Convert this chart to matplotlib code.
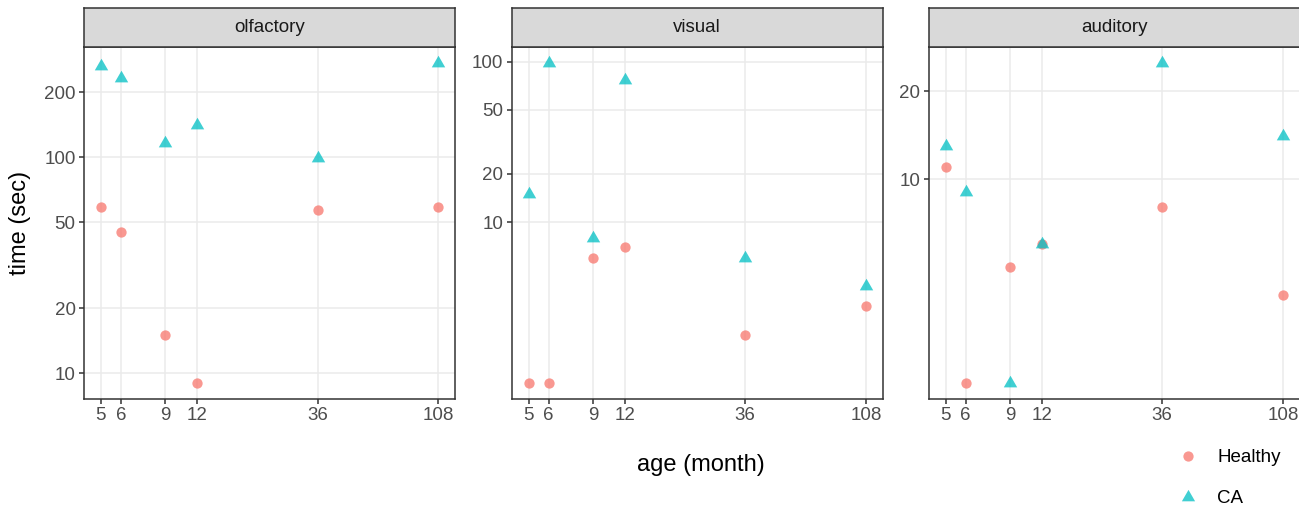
import matplotlib.pyplot as plt
from matplotlib.lines import Line2D
from matplotlib.patches import Rectangle
from matplotlib.ticker import NullLocator

ages = [5, 6, 9, 12, 36, 108]
senses = ["olfactory", "visual", "auditory"]

healthy_olfactory = [59, 45, 15, 9, 57, 59]
ca_olfactory = [263, 233, 116, 141, 99, 273]
healthy_visual = [1, 1, 6, 7, 2, 3]
ca_visual = [15, 98, 8, 77, 6, 4]
healthy_auditory = [11, 2, 5, 6, 8, 4]
ca_auditory = [13, 9, 2, 6, 25, 14]

yticks_olfactory = [10, 20, 50, 100, 200]
yticks_visual = [10, 20, 50, 100]
yticks_auditory = [10, 20]

healthy = {"olfactory": healthy_olfactory, "visual": healthy_visual, "auditory": healthy_auditory}
ca = {"olfactory": ca_olfactory, "visual": ca_visual, "auditory": ca_auditory}
yticks = {"olfactory": yticks_olfactory, "visual": yticks_visual, "auditory": yticks_auditory}

plt.rcParams['font.family'] = ['Liberation Sans', 'DejaVu Sans']

W, H = 1312, 508
fig = plt.figure(figsize=(W / 100, H / 100), dpi=100)

red = "#F8766D"
teal = "#00BFC4"
alpha = 0.75
tri = [(-1, -0.577), (1, -0.577), (0, 1.155)]

lefts = [84, 511.7, 928.7]
pw = 371
top, bottom = 47, 399
strip_top = 8

for i, s in enumerate(senses):
    x0 = lefts[i]
    ax = fig.add_axes([x0 / W, 1 - bottom / H, pw / W, (bottom - top) / H])
    ax.set_xscale('log')
    ax.set_yscale('log')
    ax.scatter(ages, healthy[s], s=55, color=red, alpha=alpha, linewidths=0, zorder=3)
    ax.scatter(ages, ca[s], s=125, marker=tri, color=teal, alpha=alpha, linewidths=0, zorder=3)
    ax.margins(0.05)
    ax.set_xticks(ages)
    ax.set_xticklabels([str(a) for a in ages])
    ax.set_yticks(yticks[s])
    ax.set_yticklabels([str(t) for t in yticks[s]])
    ax.xaxis.set_minor_locator(NullLocator())
    ax.yaxis.set_minor_locator(NullLocator())
    ax.grid(True, color="#EBEBEB", linewidth=1.1, zorder=0)
    ax.set_axisbelow(True)
    ax.tick_params(length=3.6, width=1.1, color="#333333", labelcolor="#4D4D4D",
                   labelsize=13.5, pad=2.5)
    for sp in ax.spines.values():
        sp.set_color("#333333")
        sp.set_linewidth(1.1)

    sax = fig.add_axes([x0 / W, 1 - top / H, pw / W, (top - strip_top) / H])
    sax.set_facecolor("#D9D9D9")
    sax.set_xticks([])
    sax.set_yticks([])
    for sp in sax.spines.values():
        sp.set_color("#333333")
        sp.set_linewidth(1.1)
    sax.text(0.5, 0.5, s, ha='center', va='center', fontsize=13.5,
             color="#1A1A1A", transform=sax.transAxes)

fig.text(20 / W, 1 - 223 / H, "time (sec)", rotation=90, ha='center', va='center',
         fontsize=17, color="black")
fig.text(701 / W, 1 - 465 / H, "age (month)", ha='center', va='center',
         fontsize=17, color="black")

handles = [Line2D([], [], linestyle='', marker='o', markersize=7.4, color=red, alpha=alpha,
                  markeredgewidth=0),
           Line2D([], [], linestyle='', marker=tri, markersize=11, color=teal, alpha=alpha,
                  markeredgewidth=0)]
fig.legend(handles, ["Healthy", "CA"], loc='upper left',
           bbox_to_anchor=(1179 / W, 1 - 449 / H), frameon=False, fontsize=13.5,
           handlelength=0.93, handletextpad=1.1, labelspacing=1.28,
           borderpad=0, borderaxespad=0)

# reference image is cut off at the right
fig.add_artist(Rectangle((1299 / W, 0), 13 / W, 1, transform=fig.transFigure,
                         facecolor='white', edgecolor='none', zorder=50))

fig.savefig("out.png", dpi=100)
